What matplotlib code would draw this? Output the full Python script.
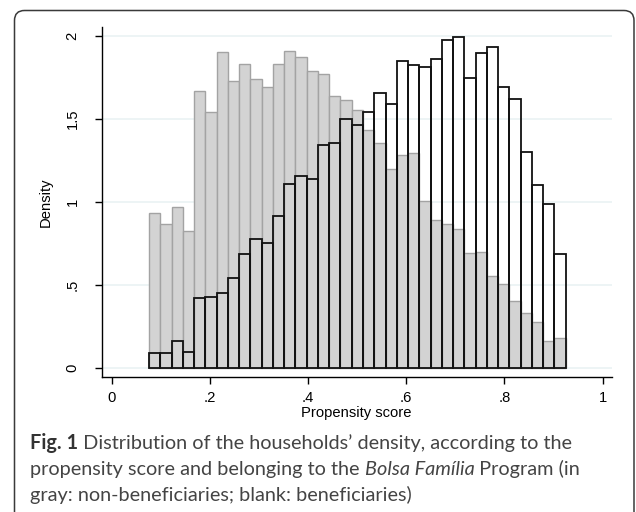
import numpy as np
import matplotlib
matplotlib.use('Agg')
from matplotlib import pyplot as plt
from matplotlib.patches import FancyBboxPatch

# histogram densities (37 bins)
bin_lo = 0.0764
bin_hi = 0.925
non_beneficiaries = [0.930, 0.866, 0.970, 0.825, 1.669, 1.538, 1.904, 1.727, 1.831, 1.741,
                     1.693, 1.831, 1.910, 1.870, 1.789, 1.767, 1.637, 1.611, 1.554, 1.434,
                     1.352, 1.197, 1.279, 1.295, 1.004, 0.890, 0.866, 0.834, 0.689, 0.697,
                     0.550, 0.502, 0.404, 0.331, 0.273, 0.159, 0.177]
beneficiaries = [0.087, 0.087, 0.163, 0.095, 0.418, 0.426, 0.450, 0.538, 0.685, 0.773,
                 0.749, 0.916, 1.107, 1.153, 1.137, 1.343, 1.355, 1.500, 1.462, 1.540,
                 1.653, 1.587, 1.849, 1.825, 1.810, 1.858, 1.976, 1.992, 1.747, 1.898,
                 1.930, 1.693, 1.619, 1.301, 1.099, 0.988, 0.685]
x_ticks = [0, 0.2, 0.4, 0.6, 0.8, 1]
x_labels = ['0', '.2', '.4', '.6', '.8', '1']
y_ticks = [0, 0.5, 1, 1.5, 2]
y_labels = ['0', '.5', '1', '1.5', '2']

edges = np.linspace(bin_lo, bin_hi, len(non_beneficiaries) + 1)
width = edges[1] - edges[0]

fig = plt.figure(figsize=(6.36, 5.12), dpi=100)

# frame + caption layer (pixel coordinates)
bg = fig.add_axes([0, 0, 1, 1])
bg.set_xlim(0, 636)
bg.set_ylim(512, 0)
bg.axis('off')
bg.add_patch(FancyBboxPatch((14.5, 10.5), 619.5, 520, boxstyle='round,pad=0,rounding_size=10',
                            fc='white', ec='#3a3a3a', lw=1.1))

ax = fig.add_axes([0.1599, 0.2631, 0.8019, 0.6848])
ax.set_zorder(2)
ax.patch.set_alpha(0)

ax.bar(edges[:-1], non_beneficiaries, width=width, align='edge',
       color='#d3d3d3', edgecolor='#a3a3a3', linewidth=1.0, zorder=2)
ax.bar(edges[:-1], beneficiaries, width=width, align='edge',
       fill=False, edgecolor='#111111', linewidth=1.3, zorder=3)

ax.set_xlim(-0.020, 1.0187)
ax.set_ylim(-0.058, 2.054)
for yv in y_ticks:
    ax.axhline(yv, color='#eaf2f3', lw=1.2, zorder=1)

fs = 10.6
ax.set_xticks(x_ticks)
ax.set_xticklabels(x_labels, fontfamily='Liberation Sans', fontsize=fs)
ax.set_yticks(y_ticks)
ax.set_yticklabels(y_labels, fontfamily='Liberation Sans', fontsize=fs, rotation=90, va='center')
ax.tick_params(axis='x', length=5, width=1, pad=5)
ax.tick_params(axis='y', length=5, width=1, pad=11)
for s in ['top', 'right']:
    ax.spines[s].set_visible(False)
for s in ['left', 'bottom']:
    ax.spines[s].set_linewidth(1.0)

ax.set_xlabel('Propensity score', fontfamily='Liberation Sans', fontsize=fs, labelpad=0.5)
ax.set_ylabel('Density', fontfamily='Liberation Sans', fontsize=fs)
ax.yaxis.set_label_coords(-0.095, 0.5)

# caption with mixed styles
renderer = fig.canvas.get_renderer()
cap_size = 14.3
cap_color = '#444444'
lines = [
    [('Fig. 1', 'bold', 'normal', '#333333'),
     (' Distribution of the households\u2019 density, according to the', 'normal', 'normal', cap_color)],
    [('propensity score and belonging to the ', 'normal', 'normal', cap_color),
     ('Bolsa Fam\u00edlia', 'normal', 'italic', cap_color),
     (' Program (in', 'normal', 'normal', cap_color)],
    [('gray: non-beneficiaries; blank: beneficiaries)', 'normal', 'normal', cap_color)],
]
baselines = [449.3, 475.0, 500.7]
for parts, yb in zip(lines, baselines):
    x = 30
    for txt, weight, style, col in parts:
        t = bg.text(x, yb, txt, fontfamily='Lato', fontsize=cap_size, fontweight=weight,
                    fontstyle=style, color=col, va='baseline', ha='left')
        bb = t.get_window_extent(renderer=renderer)
        x += bb.width

fig.savefig('out.png', dpi=100)
